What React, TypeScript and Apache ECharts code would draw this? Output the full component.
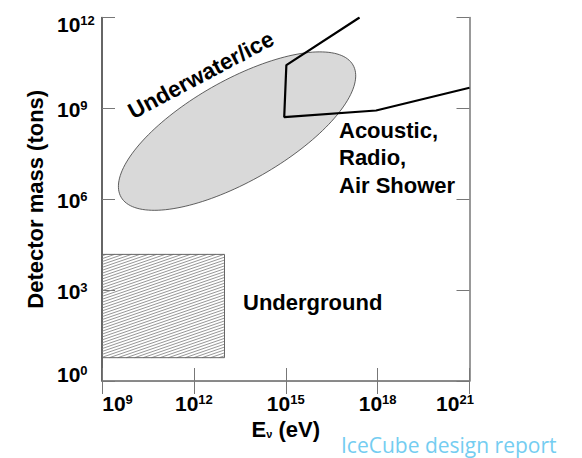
import React, { useEffect, useRef } from "react";
import * as echarts from "echarts";

// Axis extents, in powers of ten
const energyExpRange = [9, 21];
const massExpRange = [0, 12];
const tickStepExp = 3;

// Acoustic / Radio / Air Shower boundary (log10 E, log10 mass)
const radioLogE = [17.41, 15.02, 14.95, 17.95, 21.0];
const radioLogM = [12.0, 10.43, 8.71, 8.93, 9.68];

// Underwater/ice ellipse, in log10 space
const underwaterCenterLog = [13.41, 8.25];
const underwaterSemiAxesLog = [4.37, 1.66];
const underwaterTiltDeg = [30];

// Underground box, in log10 space
const undergroundLogE = [9, 13];
const undergroundLogM = [0.77, 4.18];

const FONT = "'Liberation Sans', Arial, Helvetica, sans-serif";

export default function App() {
  const ref = useRef<HTMLDivElement>(null);

  useEffect(() => {
    const chart = echarts.init(ref.current!, null, { renderer: "svg" });

    const bold = (size: number, extra: any = {}) => ({
      fontFamily: FONT,
      fontWeight: "bold",
      fontSize: size,
      color: "#000",
      verticalAlign: "middle",
      ...extra,
    });

    const xRich = {
      b: bold(21, { lineHeight: 21 }),
      s: bold(13, { lineHeight: 13, padding: [0, 0, 8, 0] }),
      bl: bold(21, { lineHeight: 21, padding: [0, 0, 0, 31] }),
      sl: bold(13, { lineHeight: 13, padding: [0, 0, 8, 0] }),
      br: bold(21, { lineHeight: 21 }),
      sr: bold(13, { lineHeight: 13, padding: [0, 29, 8, 0] }),
    };
    const xLabel = (v: number) => {
      const e = Math.round(v);
      if (e === energyExpRange[0]) return `{bl|10}{sl|${e}}`;
      if (e === energyExpRange[1]) return `{br|10}{sr|${e}}`;
      return `{b|10}{s|${e}}`;
    };

    const yRich = {
      b: bold(21, { lineHeight: 21, padding: [3, 0, 0, 0] }),
      s: bold(13, { lineHeight: 13, padding: [0, 0, 5, 0] }),
      bt: bold(21, { lineHeight: 21, padding: [14, 0, 0, 0] }),
      st: bold(13, { lineHeight: 13, padding: [6, 0, 0, 0] }),
      bb: bold(21, { lineHeight: 21, padding: [0, 0, 13, 0] }),
      sb: bold(13, { lineHeight: 13, padding: [0, 0, 21, 0] }),
    };
    const yLabel = (v: number) => {
      const e = Math.round(v);
      if (e === massExpRange[1]) return `{bt|10}{st|${e}}`;
      if (e === massExpRange[0]) return `{bb|10}{sb|${e}}`;
      return `{b|10}{s|${e}}`;
    };

    const tick = (color: string) => ({
      show: true,
      inside: true,
      length: 13,
      lineStyle: { color, width: 1 },
    });

    const hatchAngle = (19 * Math.PI) / 180;
    const hatchStep = 2.9;

    chart.setOption({
      animation: false,
      grid: { left: 102, right: 112.5, top: 13, bottom: 77, containLabel: false },
      xAxis: [
        {
          type: "value",
          position: "bottom",
          min: energyExpRange[0],
          max: energyExpRange[1],
          interval: tickStepExp,
          axisLine: { show: true, lineStyle: { color: "#666", width: 1.5 } },
          axisTick: tick("#777"),
          splitLine: { show: false },
          axisLabel: {
            formatter: xLabel,
            rich: xRich,
            fontFamily: FONT,
            fontWeight: "bold",
            fontSize: 21,
            color: "#000",
            margin: 12,
            showMinLabel: true,
            showMaxLabel: true,
          },
          name: "{b|E}{sub|ν}{b| (eV)}",
          nameLocation: "middle",
          nameGap: 30,
          nameTextStyle: {
            rich: {
              b: bold(22, { lineHeight: 22 }),
              sub: bold(11, { lineHeight: 11, padding: [9, 0, 0, 0] }),
            },
          },
        },
        {
          type: "value",
          position: "top",
          min: energyExpRange[0],
          max: energyExpRange[1],
          interval: tickStepExp,
          axisLine: { show: true, lineStyle: { color: "#888", width: 1.2 } },
          axisTick: tick("#777"),
          axisLabel: { show: false },
          splitLine: { show: false },
        },
      ],
      yAxis: [
        {
          type: "value",
          position: "left",
          min: massExpRange[0],
          max: massExpRange[1],
          interval: tickStepExp,
          axisLine: { show: true, lineStyle: { color: "#333", width: 1.5 } },
          axisTick: tick("#777"),
          splitLine: { show: false },
          axisLabel: {
            formatter: yLabel,
            rich: yRich,
            fontFamily: FONT,
            fontWeight: "bold",
            fontSize: 21,
            color: "#000",
            align: "left",
            margin: 45,
            showMinLabel: true,
            showMaxLabel: true,
          },
          name: "Detector mass (tons)",
          nameLocation: "middle",
          nameGap: 57,
          nameTextStyle: bold(22),
        },
        {
          type: "value",
          position: "right",
          min: massExpRange[0],
          max: massExpRange[1],
          interval: tickStepExp,
          axisLine: { show: true, lineStyle: { color: "#777", width: 1.5 } },
          axisTick: tick("#777"),
          axisLabel: { show: false },
          splitLine: { show: false },
        },
      ],
      series: [
        {
          type: "custom",
          name: "Underwater/ice",
          xAxisIndex: 0,
          yAxisIndex: 0,
          z: 1,
          data: [[underwaterCenterLog[0], underwaterCenterLog[1]]],
          renderItem: (params: any, api: any) => {
            const cx = api.value(0);
            const cy = api.value(1);
            const [a, b] = underwaterSemiAxesLog;
            const th = (underwaterTiltDeg[0] * Math.PI) / 180;
            const pts: number[][] = [];
            const n = 160;
            for (let i = 0; i < n; i++) {
              const t = (i / n) * Math.PI * 2;
              const ex = a * Math.cos(t);
              const ey = b * Math.sin(t);
              const lx = cx + ex * Math.cos(th) - ey * Math.sin(th);
              const ly = cy + ex * Math.sin(th) + ey * Math.cos(th);
              pts.push(api.coord([lx, ly]));
            }
            return {
              type: "polygon",
              shape: { points: pts },
              style: { fill: "#d9d9d9", stroke: "#3a3a3a", lineWidth: 0.8 },
            };
          },
        },
        {
          type: "custom",
          name: "Underground",
          xAxisIndex: 0,
          yAxisIndex: 0,
          z: 1,
          encode: { x: [0, 2], y: [1, 3] },
          data: [[undergroundLogE[0], undergroundLogM[0], undergroundLogE[1], undergroundLogM[1]]],
          renderItem: (params: any, api: any) => {
            const pA = api.coord([api.value(0), api.value(3)]);
            const pB = api.coord([api.value(2), api.value(1)]);
            const x0 = pA[0], y0 = pA[1], x1 = pB[0], y1 = pB[1];
            const m = Math.tan(hatchAngle);
            const children: any[] = [];
            const cStart = y0 + m * x0;
            const cEnd = y1 + m * x1;
            for (let c = cStart + hatchStep / 2; c < cEnd; c += hatchStep) {
              const xa = Math.max(x0, (c - y1) / m);
              const xb = Math.min(x1, (c - y0) / m);
              if (xb <= xa) continue;
              children.push({
                type: "line",
                shape: { x1: xa, y1: c - m * xa, x2: xb, y2: c - m * xb },
                style: { stroke: "#8a8a8a", lineWidth: 0.9 },
              });
            }
            children.push({
              type: "rect",
              shape: { x: x0, y: y0, width: x1 - x0, height: y1 - y0 },
              style: { fill: "none", stroke: "#666", lineWidth: 1 },
            });
            return { type: "group", children };
          },
        },
        {
          type: "line",
          name: "Acoustic, Radio, Air Shower",
          xAxisIndex: 0,
          yAxisIndex: 0,
          z: 3,
          showSymbol: false,
          symbol: "none",
          clip: true,
          lineStyle: { color: "#000", width: 2.2 },
          data: radioLogE.map((e, i) => [e, radioLogM[i]]),
        },
      ],
      graphic: [
        {
          type: "text",
          x: 201,
          y: 75,
          rotation: (28 * Math.PI) / 180,
          style: {
            text: "Underwater/ice",
            font: `bold 22.5px ${FONT}`,
            fill: "#000",
            align: "center",
            verticalAlign: "middle",
          },
        },
        {
          type: "text",
          x: 339,
          y: 130,
          style: { text: "Acoustic,", font: `bold 22px ${FONT}`, fill: "#000", align: "left", verticalAlign: "middle" },
        },
        {
          type: "text",
          x: 339,
          y: 157.5,
          style: { text: "Radio,", font: `bold 22px ${FONT}`, fill: "#000", align: "left", verticalAlign: "middle" },
        },
        {
          type: "text",
          x: 339,
          y: 185,
          style: { text: "Air Shower", font: `bold 22px ${FONT}`, fill: "#000", align: "left", verticalAlign: "middle" },
        },
        {
          type: "text",
          x: 243,
          y: 302,
          style: { text: "Underground", font: `bold 22px ${FONT}`, fill: "#000", align: "left", verticalAlign: "middle" },
        },
        {
          type: "text",
          x: 341,
          y: 445,
          style: {
            text: "IceCube design report",
            font: `21px 'Open Sans', Lato, sans-serif`,
            fill: "#74cdf1",
            align: "left",
            verticalAlign: "middle",
          },
        },
      ],
    });

    return () => chart.dispose();
  }, []);

  return (
    <div
      ref={ref}
      style={{ position: "fixed", left: 0, top: 0, width: 582, height: 458, background: "#fff" }}
    />
  );
}
